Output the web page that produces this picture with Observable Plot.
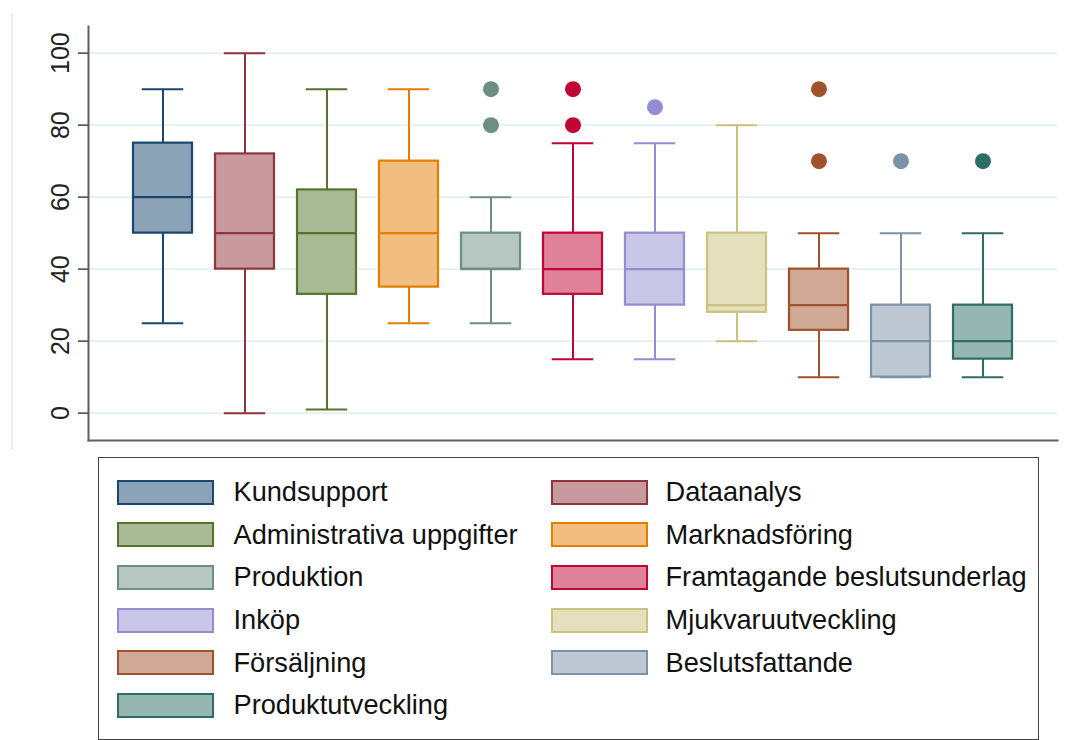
<!DOCTYPE html>
<html>
<head>
<meta charset="utf-8">
<script src="https://cdn.jsdelivr.net/npm/d3@7"></script>
<script src="https://cdn.jsdelivr.net/npm/@observablehq/plot@0.6"></script>
<style>
  body { margin: 0; background: #fff; }
  #wrap { position: relative; width: 1071px; height: 740px; background: #fff; font-family: "Liberation Sans", Arial, sans-serif; }
  #edge { position: absolute; left: 11px; top: 13px; width: 1.5px; height: 437px; background: #e4eef1; }
  #legend { position: absolute; left: 98px; top: 457px; width: 941px; height: 283px; border: 1.5px solid #444; box-sizing: border-box; }
  .sw { position: absolute; width: 97px; height: 25px; box-sizing: border-box; border: 2.5px solid; }
  .lab { position: absolute; font-size: 27.2px; line-height: 30px; color: #111; white-space: nowrap; }
</style>
</head>
<body>
<div id="wrap">
  <div id="edge"></div>
  <div id="chart"></div>
  <div id="legend"></div>
</div>
<script>
const categories = ["Kundsupport", "Dataanalys", "Administrativa uppgifter", "Marknadsföring", "Produktion", "Framtagande beslutsunderlag", "Inköp", "Mjukvaruutveckling", "Försäljning", "Beslutsfattande", "Produktutveckling"];
const whiskerLow = [25, 0, 1, 25, 25, 15, 15, 20, 10, 10, 10];
const q1 = [50, 40, 33, 35, 40, 33, 30, 28, 23, 10, 15];
const medians = [60, 50, 50, 50, 40, 40, 40, 30, 30, 20, 20];
const q3 = [75, 72, 62, 70, 50, 50, 50, 50, 40, 30, 30];
const whiskerHigh = [90, 100, 90, 90, 60, 75, 75, 80, 50, 50, 50];
const outlierCategory = ["Produktion", "Produktion", "Framtagande beslutsunderlag", "Framtagande beslutsunderlag", "Inköp", "Försäljning", "Försäljning", "Beslutsfattande", "Produktutveckling"];
const outlierValue = [90, 80, 90, 80, 85, 90, 70, 70, 70];
const strokeColors = ["#1a476f", "#90353b", "#55752f", "#e37e00", "#6e8e84", "#c10534", "#938dd2", "#cac27e", "#a0522d", "#7b92a8", "#2d6d66"];
const fillColors = ["#8ca3b7", "#c8999d", "#aaba97", "#f1be7f", "#b6c6c1", "#e0819a", "#c9c6e8", "#e4e0be", "#cfa896", "#bdc8d3", "#96b6b2"];
const yTicks = [0, 20, 40, 60, 80, 100];

const boxes = categories.map((c, i) => ({
  cat: c, lo: whiskerLow[i], q1: q1[i], med: medians[i], q3: q3[i], hi: whiskerHigh[i],
  stroke: strokeColors[i], fill: fillColors[i]
}));
const outliers = outlierCategory.map((c, i) => ({
  cat: c, v: outlierValue[i], color: strokeColors[categories.indexOf(c)]
}));

const chart = Plot.plot({
  width: 1071,
  height: 450,
  marginLeft: 88,
  marginRight: 14,
  marginTop: 26,
  marginBottom: 10,
  style: { fontFamily: "'Liberation Sans', Arial, sans-serif", background: "transparent", color: "#222" },
  x: { domain: categories, paddingInner: 0.28, paddingOuter: 0.503, axis: null },
  y: { domain: [-7.6, 107.4], axis: null },
  color: { type: "identity" },
  marks: [
    Plot.gridY(yTicks, { stroke: "#e6eff1", strokeOpacity: 1, strokeWidth: 1.6 }),
    Plot.ruleX(boxes, { x: "cat", y1: "lo", y2: "q1", stroke: "stroke", strokeWidth: 2 }),
    Plot.ruleX(boxes, { x: "cat", y1: "q3", y2: "hi", stroke: "stroke", strokeWidth: 2 }),
    Plot.tickY(boxes, { x: "cat", y: "lo", stroke: "stroke", strokeWidth: 2, insetLeft: 8.75, insetRight: 8.75 }),
    Plot.tickY(boxes, { x: "cat", y: "hi", stroke: "stroke", strokeWidth: 2, insetLeft: 8.75, insetRight: 8.75 }),
    Plot.barY(boxes, { x: "cat", y1: "q1", y2: "q3", fill: "fill", stroke: "stroke", strokeWidth: 2.2 }),
    Plot.tickY(boxes, { x: "cat", y: "med", stroke: "stroke", strokeWidth: 2.2 }),
    Plot.dot(outliers, { x: "cat", y: "v", fill: "color", r: 8 }),
    Plot.axisY({ ticks: yTicks, tickSize: 10, tickRotate: -90, tickPadding: 10, fontSize: 25, stroke: "#606060", strokeWidth: 1.8 }),
    Plot.frame({ anchor: "left", stroke: "#606060", strokeWidth: 2 }),
    Plot.frame({ anchor: "bottom", stroke: "#606060", strokeWidth: 2 })
  ]
});
document.getElementById("chart").appendChild(chart);

const legend = document.getElementById("legend");
categories.forEach((c, i) => {
  const col = i % 2, row = Math.floor(i / 2);
  const cy = 34.2 + 42.6 * row;
  const sw = document.createElement("div");
  sw.className = "sw";
  sw.style.left = (col ? 451.5 : 17.5) + "px";
  sw.style.top = (cy - 12.5) + "px";
  sw.style.background = fillColors[i];
  sw.style.borderColor = strokeColors[i];
  legend.appendChild(sw);
  const lab = document.createElement("div");
  lab.className = "lab";
  lab.style.left = (col ? 566.5 : 134.5) + "px";
  lab.style.top = (cy - 15) + "px";
  lab.textContent = c;
  legend.appendChild(lab);
});
</script>
</body>
</html>
